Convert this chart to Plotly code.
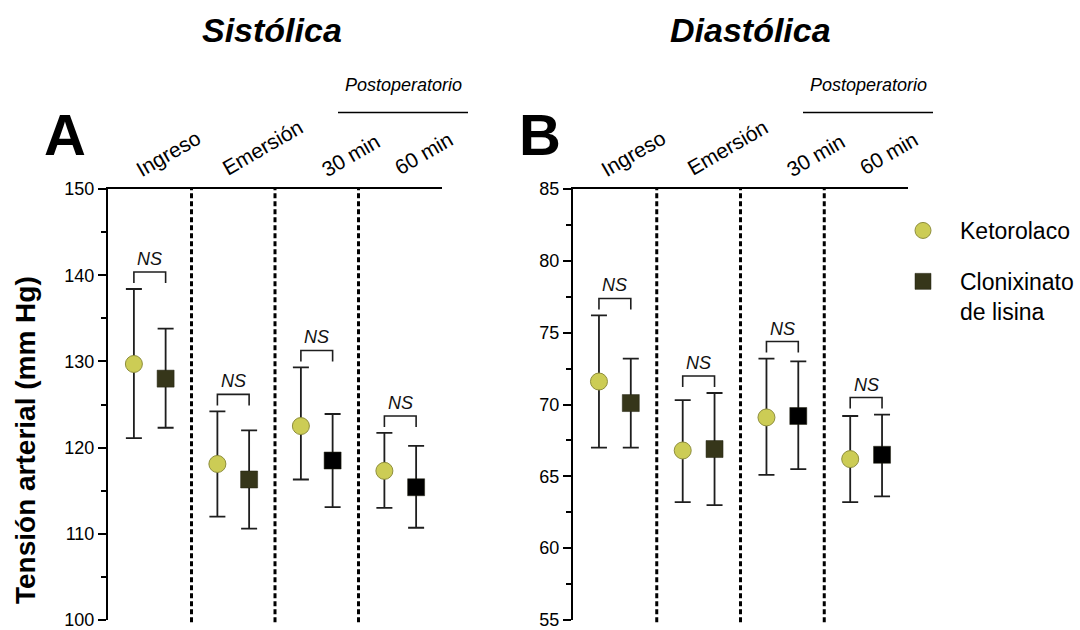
import plotly.graph_objects as go

# ---------------- data ----------------
categories = ["Ingreso", "Emersión", "30 min", "60 min"]

# Sistólica (panel A)
sis_keto_mean = [129.7, 118.1, 122.5, 117.3]
sis_keto_upper = [138.4, 124.2, 129.3, 121.7]
sis_keto_lower = [121.1, 112.0, 116.3, 113.0]
sis_clon_mean = [128.0, 116.3, 118.5, 115.4]
sis_clon_upper = [133.8, 122.0, 123.9, 120.2]
sis_clon_lower = [122.3, 110.6, 113.1, 110.7]

# Diastólica (panel B)
dia_keto_mean = [71.6, 66.8, 69.1, 66.2]
dia_keto_upper = [76.2, 70.3, 73.2, 69.2]
dia_keto_lower = [67.0, 63.2, 65.1, 63.2]
dia_clon_mean = [70.1, 66.9, 69.2, 66.5]
dia_clon_upper = [73.2, 70.8, 73.0, 69.3]
dia_clon_lower = [67.0, 63.0, 65.5, 63.6]

sig_labels = ["NS", "NS", "NS", "NS"]

sis_ticks = [100, 110, 120, 130, 140, 150]
dia_ticks = [55, 60, 65, 70, 75, 80, 85]

# ---------------- style ----------------
W, H = 1080, 630
FONT = "Liberation Sans, Arial, sans-serif"
KETO_FILL = "#cccc55"
KETO_LINE = "#8e8e3c"
CLON_COLORS = ["#36361a", "#36361a", "#000000", "#000000"]
ERR_COLOR = "#1e1e1e"
OFF = 0.19


def px(x):
    return x / W


def py(y):
    return 1 - y / H


def ann(x, y, text, size, angle=0, **kw):
    d = dict(xref="paper", yref="paper", x=px(x), y=py(y), text=text,
             showarrow=False, xanchor="center", yanchor="middle",
             textangle=angle, font=dict(family=FONT, size=size, color="black"))
    d.update(kw)
    return d


fig = go.Figure()

panels = [
    dict(xa="x", ya="y", km=sis_keto_mean, ku=sis_keto_upper, kl=sis_keto_lower,
         cm=sis_clon_mean, cu=sis_clon_upper, cl=sis_clon_lower,
         rng=[100, 150], ticks=sis_ticks, minor=5, legend=True),
    dict(xa="x2", ya="y2", km=dia_keto_mean, ku=dia_keto_upper, kl=dia_keto_lower,
         cm=dia_clon_mean, cu=dia_clon_upper, cl=dia_clon_lower,
         rng=[55, 85], ticks=dia_ticks, minor=2.5, legend=False),
]

x_idx = list(range(len(categories)))
PLOT_H = 431.0  # pixel height of plotting area

shapes = []
annotations = []

for p in panels:
    kx = [i - OFF for i in x_idx]
    cx = [i + OFF for i in x_idx]
    fig.add_trace(go.Scatter(
        x=kx, y=p["km"], mode="markers", name="Ketorolaco",
        legendgroup="keto", showlegend=p["legend"],
        xaxis=p["xa"], yaxis=p["ya"],
        marker=dict(symbol="circle", size=17, color=KETO_FILL,
                    line=dict(color=KETO_LINE, width=1)),
        error_y=dict(type="data", symmetric=False,
                     array=[u - m for u, m in zip(p["ku"], p["km"])],
                     arrayminus=[m - l for m, l in zip(p["km"], p["kl"])],
                     color=ERR_COLOR, thickness=1.8, width=8),
    ))
    fig.add_trace(go.Scatter(
        x=cx, y=p["cm"], mode="markers", name="Clonixinato<br>de lisina",
        legendgroup="clon", showlegend=p["legend"],
        xaxis=p["xa"], yaxis=p["ya"],
        marker=dict(symbol="square", size=17, color=CLON_COLORS,
                    line=dict(color="#222211", width=0.5)),
        error_y=dict(type="data", symmetric=False,
                     array=[u - m for u, m in zip(p["cu"], p["cm"])],
                     arrayminus=[m - l for m, l in zip(p["cm"], p["cl"])],
                     color=ERR_COLOR, thickness=1.8, width=8),
    ))
    # dotted separators
    for b in [0.5, 1.5, 2.5]:
        shapes.append(dict(type="line", xref=p["xa"], yref=p["ya"] + " domain",
                           x0=b, x1=b, y0=-0.005, y1=1,
                           line=dict(color="black", width=3, dash="5px,3px")))
    # NS brackets
    upp = (p["rng"][1] - p["rng"][0]) / PLOT_H
    for i in x_idx:
        top = max(p["ku"][i], p["cu"][i])
        yb = top + 17 * upp
        yl = yb - 11 * upp
        shapes.append(dict(type="path", xref=p["xa"], yref=p["ya"],
                           path=f"M {i-OFF},{yl} L {i-OFF},{yb} L {i+OFF},{yb} L {i+OFF},{yl}",
                           line=dict(color=ERR_COLOR, width=1.6)))
        annotations.append(dict(xref=p["xa"], yref=p["ya"], x=i, y=yb,
                                text=f"<i>{sig_labels[i]}</i>", showarrow=False,
                                xanchor="center", yanchor="bottom", yshift=1,
                                font=dict(family=FONT, size=18, color="#111")))

# axes
axis_common = dict(showgrid=False, zeroline=False, automargin=False)
for xa, dom in [("xaxis", [108 / W, 442 / W]), ("xaxis2", [573 / W, 908 / W])]:
    fig.layout[xa] = dict(domain=dom, range=[-0.5, 3.5], side="top",
                          showline=True, linecolor="black", linewidth=2,
                          showticklabels=False, ticks="", **axis_common)
fig.layout.xaxis2.anchor = "y2"
fig.layout.xaxis.anchor = "y"

ydom = [1 - 620 / H, 1 - 189 / H]
for ya, xa, p in [("yaxis", "x", panels[0]), ("yaxis2", "x2", panels[1])]:
    fig.layout[ya] = dict(domain=ydom, range=p["rng"], anchor=xa,
                          tickvals=p["ticks"], ticks="outside", ticklen=8,
                          tickwidth=2, tickcolor="black",
                          showline=True, linecolor="black", linewidth=2,
                          ticklabeloverflow="allow",
                          tickfont=dict(family=FONT, size=18, color="black"),
                          minor=dict(dtick=p["minor"], ticks="outside", ticklen=5,
                                     tickwidth=2, tickcolor="black", showgrid=False),
                          **axis_common)

# category labels (rotated)
label_dx = [60, 154, 242, 315]
label_y = [153, 147, 155, 153]
for x0 in [108, 573]:
    for i, lab in enumerate(categories):
        annotations.append(ann(x0 + label_dx[i], label_y[i], lab, 21, angle=-30))

# Postoperatorio
for x0 in [108, 573]:
    annotations.append(ann(x0 + 295, 85, "<i>Postoperatorio</i>", 18))
    shapes.append(dict(type="line", xref="paper", yref="paper",
                       x0=px(x0 + 230), x1=px(x0 + 360), y0=py(112.5), y1=py(112.5),
                       line=dict(color="black", width=1.5)))

# titles and panel letters
annotations.append(ann(272, 30, "<b><i>Sistólica</i></b>", 34))
annotations.append(ann(750, 30, "<b><i>Diastólica</i></b>", 34))
annotations.append(ann(65, 134, "<b>A</b>", 58))
annotations.append(ann(540, 134, "<b>B</b>", 58))
annotations.append(ann(25, 440, "<b>Tensión arterial (mm Hg)</b>", 28, angle=-90))

fig.update_layout(
    width=W, height=H, margin=dict(l=0, r=0, t=0, b=0, autoexpand=False),
    paper_bgcolor="white", plot_bgcolor="white",
    font=dict(family=FONT, color="black"),
    shapes=shapes, annotations=annotations,
    showlegend=True,
    legend=dict(x=px(886), y=py(209), xanchor="left", yanchor="top",
                font=dict(family=FONT, size=23, color="black"),
                itemwidth=64,
                traceorder="grouped", tracegroupgap=18, valign="top",
                bgcolor="rgba(0,0,0,0)"),
)

fig.write_html("out.html")
